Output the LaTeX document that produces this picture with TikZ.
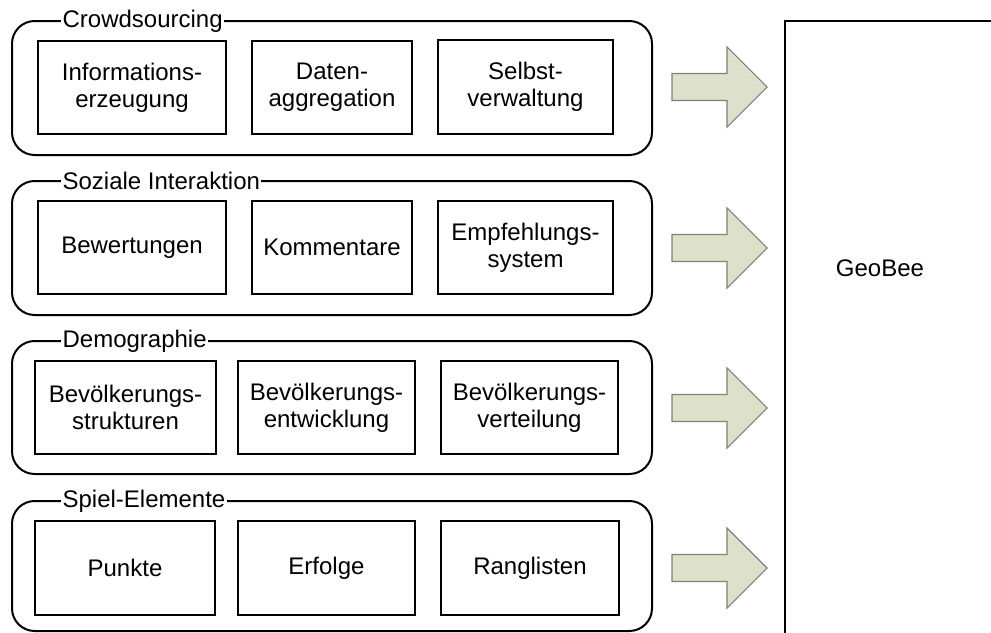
\documentclass[tikz,border=0pt]{standalone}
\usepackage{fontspec}
\setmainfont{Liberation Sans}
\usetikzlibrary{fit}
\definecolor{arrowfill}{RGB}{221,225,204}
\definecolor{arrowedge}{RGB}{128,128,120}
\begin{document}
\begin{tikzpicture}[x=0.75pt,y=-0.75pt,
  every node/.style={font=\fontsize{18}{20.5}\selectfont},
  group/.style={draw, line width=1.5pt, rounded corners=17pt, inner sep=0pt},
  item/.style={draw, line width=1.5pt, inner sep=0pt},
  caption/.style={label={[align=center]center:#1}},
  grouptitle/.style={fill=white, inner xsep=1pt, inner ysep=0pt, anchor=west},
  pics/blockarrow/.style={code={
    \draw[fill=arrowfill, draw=arrowedge, line width=0.8pt]
      (0,-13.5) -- (55,-13.5) -- (55,-40) -- (95,0) -- (55,40)
      -- (55,13.5) -- (0,13.5) -- cycle;}}]
\useasboundingbox (0,0) rectangle (991,632);
\clip (0,0) rectangle (991,632);
\fill[white] (0,0) rectangle (991,632);

% Target box
\node[draw, line width=2pt, inner sep=0pt, fit={(785,21) (1020,680)}] (geo) {};
\node (geotext) at (880,268) {GeoBee};

% Crowdsourcing
\node[group, fit={(12,21) (652,155)}] (g1) {};
\node[grouptitle] (t1) at (61,21) {Crowdsourcing};
\node[item, fit={(38,41) (226,134)}, caption={Informations-\\erzeugung}] (g1a) {};
\node[item, fit={(252,41) (412,134)}, caption={Daten-\\aggregation}] (g1b) {};
\node[item, fit={(438,40) (613,134)}, caption={Selbst-\\verwaltung}] (g1c) {};

% Soziale Interaktion
\node[group, fit={(12,181) (652,315)}] (g2) {};
\node[grouptitle] (t2) at (61,181) {Soziale Interaktion};
\node[item, fit={(38,201) (226,294)}, caption={Bewertungen}] (g2a) {};
\node[item, fit={(252,201) (412,294)}, caption={Kommentare}] (g2b) {};
\node[item, fit={(438,201) (613,294)}, caption={Empfehlungs-\\system}] (g2c) {};

% Demographie
\node[group, fit={(12,341) (652,474)}] (g3) {};
\node[grouptitle] (t3) at (61,341) {Demographie};
\node[item, fit={(35,361) (216,454)}, caption={Bevölkerungs-\\strukturen}] (g3a) {};
\node[item, fit={(238,361) (415,454)}, caption={Bevölkerungs-\\entwicklung}] (g3b) {};
\node[item, fit={(441,361) (618,454)}, caption={Bevölkerungs-\\verteilung}] (g3c) {};

% Spiel-Elemente
\node[group, fit={(12,501) (652,631)}] (g4) {};
\node[grouptitle] (t4) at (61,501) {Spiel-Elemente};
\node[item, fit={(35,521) (215,615)}, caption={Punkte}] (g4a) {};
\node[item, fit={(238,521) (415,615)}, caption={Erfolge}] (g4b) {};
\node[item, fit={(441,521) (619,615)}, caption={Ranglisten}] (g4c) {};

% Block arrows towards the target box
\pic at (672,87) {blockarrow};
\pic at (672,248) {blockarrow};
\pic at (672,408) {blockarrow};
\pic at (672,568) {blockarrow};
\end{tikzpicture}
\end{document}
